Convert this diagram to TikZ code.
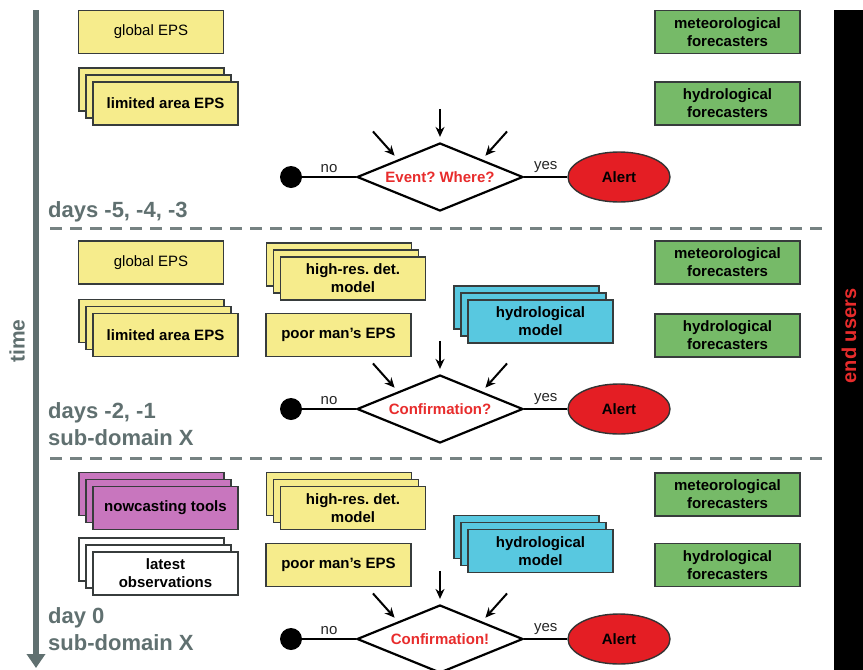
\documentclass[tikz,border=0pt]{standalone}
\usepackage{fontspec}
\setmainfont{Liberation Sans}
\usetikzlibrary{shapes.geometric,shadows,arrows.meta,calc}

\definecolor{epsyellow}{RGB}{246,236,140}
\definecolor{usergreen}{RGB}{118,186,104}
\definecolor{hydrocyan}{RGB}{88,200,224}
\definecolor{nowpink}{RGB}{200,118,190}
\definecolor{alertred}{RGB}{228,30,36}
\definecolor{textred}{RGB}{232,44,44}
\definecolor{timegray}{RGB}{96,112,112}
\definecolor{rulegray}{RGB}{118,130,130}
\definecolor{boxline}{RGB}{55,60,60}

\frenchspacing

\tikzset{
    modelbox/.style={draw=boxline, line width=1.4pt, minimum width=145pt, minimum height=43pt, inner sep=1pt, align=center, font=\fontsize{15}{18}\selectfont\bfseries},
    plainbox/.style={modelbox, fill=#1, font=\fontsize{15}{18}\selectfont},
    userbox/.style={modelbox, fill=usergreen},
    stackbox/.style={modelbox, fill=#1,
        copy shadow={shadow xshift=-14pt, shadow yshift=14pt, fill=#1, draw=boxline, line width=1.4pt},
        copy shadow={shadow xshift=-7pt, shadow yshift=7pt, fill=#1, draw=boxline, line width=1.4pt}},
    decision/.style={diamond, draw=black, line width=2.2pt, fill=white, minimum width=166pt, minimum height=68pt, inner sep=0pt, aspect=2.4, text=textred, font=\fontsize{15}{18}\selectfont\bfseries},
    alertnode/.style={ellipse, draw=black!80, line width=1.4pt, fill=alertred, minimum width=102pt, minimum height=50pt, font=\fontsize{15}{18}\selectfont\bfseries},
    enddot/.style={circle, fill=black, minimum size=22pt, inner sep=0pt},
    flow/.style={line width=2.2pt},
    feed/.style={line width=2pt, -{Stealth[length=10pt,width=9pt]}, shorten >=5pt},
    answer/.style={font=\fontsize{15}{18}\selectfont, text=black!85},
    phase/.style={anchor=north west, align=left, inner sep=0pt, text=timegray, font=\fontsize{22}{27}\selectfont\bfseries},
    separator/.style={rulegray, line width=3pt, dash pattern=on 12pt off 8pt}
}

\begin{document}
\begin{tikzpicture}[x=1pt, y=-1pt]
    \useasboundingbox (0,0) rectangle (863,670);

    % Time axis and end users
    \coordinate (tstart) at (36,10);
    \coordinate (tend) at (36,668);
    \draw[line width=6pt, timegray, -{Triangle[width=18pt,length=14pt]}] (tstart) -- (tend);
    \node[rotate=90, text=timegray, font=\fontsize{21}{24}\selectfont\bfseries] (time) at (17,341) {time};
    \node[fill=black, minimum width=29pt, minimum height=660pt, inner sep=0pt] (bar) at (848.5,340) {};
    \node[rotate=90, text=textred, font=\fontsize{20}{24}\selectfont\bfseries] (users) at (849,336) {end users};

    % Separators
    \draw[separator] (50,228) -- (822,228);
    \draw[separator] (50,458) -- (822,458);

    % Days -5, -4, -3
    \node[plainbox=epsyellow] (glob1) at (151,32) {global EPS};
    \node[stackbox=epsyellow] (lam1) at (165.5,103.5) {limited area EPS};
    \node[userbox] (meteo1) at (727.5,32) {meteorological\\forecasters};
    \node[userbox] (hydro1) at (727.5,103.5) {hydrological\\forecasters};
    \node[decision] (ask1) at (440,177) {Event? Where?};
    \node[enddot] (no1) at (291,177) {};
    \node[alertnode] (alert1) at (619,177) {Alert};
    \node[phase] (days1) at (48,201) {days -5, -4, -3};

    \draw[flow] (no1) -- (ask1) node[midway, above, answer] {no};
    \draw[flow] (ask1) -- (alert1) node[midway, above, answer] {yes};
    \coordinate (in1) at ($(ask1.north)+(0,-33)$);
    \coordinate (in1l) at ($(ask1.north west)+(-25,-28)$);
    \coordinate (in1r) at ($(ask1.north east)+(25,-28)$);
    \draw[feed] (in1) -- (ask1.north);
    \draw[feed] (in1l) -- (ask1.north west);
    \draw[feed] (in1r) -- (ask1.north east);

    % Days -2, -1
    \node[plainbox=epsyellow] (glob2) at (151,262.5) {global EPS};
    \node[stackbox=epsyellow] (lam2) at (165.5,335) {limited area EPS};
    \node[stackbox=epsyellow] (hres2) at (353,278.5) {high-res. det.\\model};
    \node[modelbox, fill=epsyellow] (poor2) at (338.5,335) {poor man's EPS};
    \node[stackbox=hydrocyan] (hmod2) at (540.5,321.5) {hydrological\\model};
    \node[userbox] (meteo2) at (727.5,262.5) {meteorological\\forecasters};
    \node[userbox] (hydro2) at (727.5,335.5) {hydrological\\forecasters};
    \node[decision] (ask2) at (440,409) {Confirmation?};
    \node[enddot] (no2) at (291,409) {};
    \node[alertnode] (alert2) at (619,409) {Alert};
    \node[phase] (days2) at (48,402) {days -2, -1\\sub-domain X};

    \draw[flow] (no2) -- (ask2) node[midway, above, answer] {no};
    \draw[flow] (ask2) -- (alert2) node[midway, above, answer] {yes};
    \coordinate (in2) at ($(ask2.north)+(0,-33)$);
    \coordinate (in2l) at ($(ask2.north west)+(-25,-28)$);
    \coordinate (in2r) at ($(ask2.north east)+(25,-28)$);
    \draw[feed] (in2) -- (ask2.north);
    \draw[feed] (in2l) -- (ask2.north west);
    \draw[feed] (in2r) -- (ask2.north east);

    % Day 0
    \node[stackbox=nowpink] (now3) at (165.5,508) {nowcasting tools};
    \node[stackbox=white] (obs3) at (165.5,573.5) {latest\\observations};
    \node[stackbox=epsyellow] (hres3) at (353,508) {high-res. det.\\model};
    \node[modelbox, fill=epsyellow] (poor3) at (338.5,565) {poor man's EPS};
    \node[stackbox=hydrocyan] (hmod3) at (540.5,551) {hydrological\\model};
    \node[userbox] (meteo3) at (727.5,494.5) {meteorological\\forecasters};
    \node[userbox] (hydro3) at (727.5,565) {hydrological\\forecasters};
    \node[decision] (ask3) at (440,639) {Confirmation!};
    \node[enddot] (no3) at (291,639) {};
    \node[alertnode] (alert3) at (619,639) {Alert};
    \node[phase] (days3) at (48,607) {day 0\\sub-domain X};

    \draw[flow] (no3) -- (ask3) node[midway, above, answer] {no};
    \draw[flow] (ask3) -- (alert3) node[midway, above, answer] {yes};
    \coordinate (in3) at ($(ask3.north)+(0,-33)$);
    \coordinate (in3l) at ($(ask3.north west)+(-25,-28)$);
    \coordinate (in3r) at ($(ask3.north east)+(25,-28)$);
    \draw[feed] (in3) -- (ask3.north);
    \draw[feed] (in3l) -- (ask3.north west);
    \draw[feed] (in3r) -- (ask3.north east);
\end{tikzpicture}
\end{document}
